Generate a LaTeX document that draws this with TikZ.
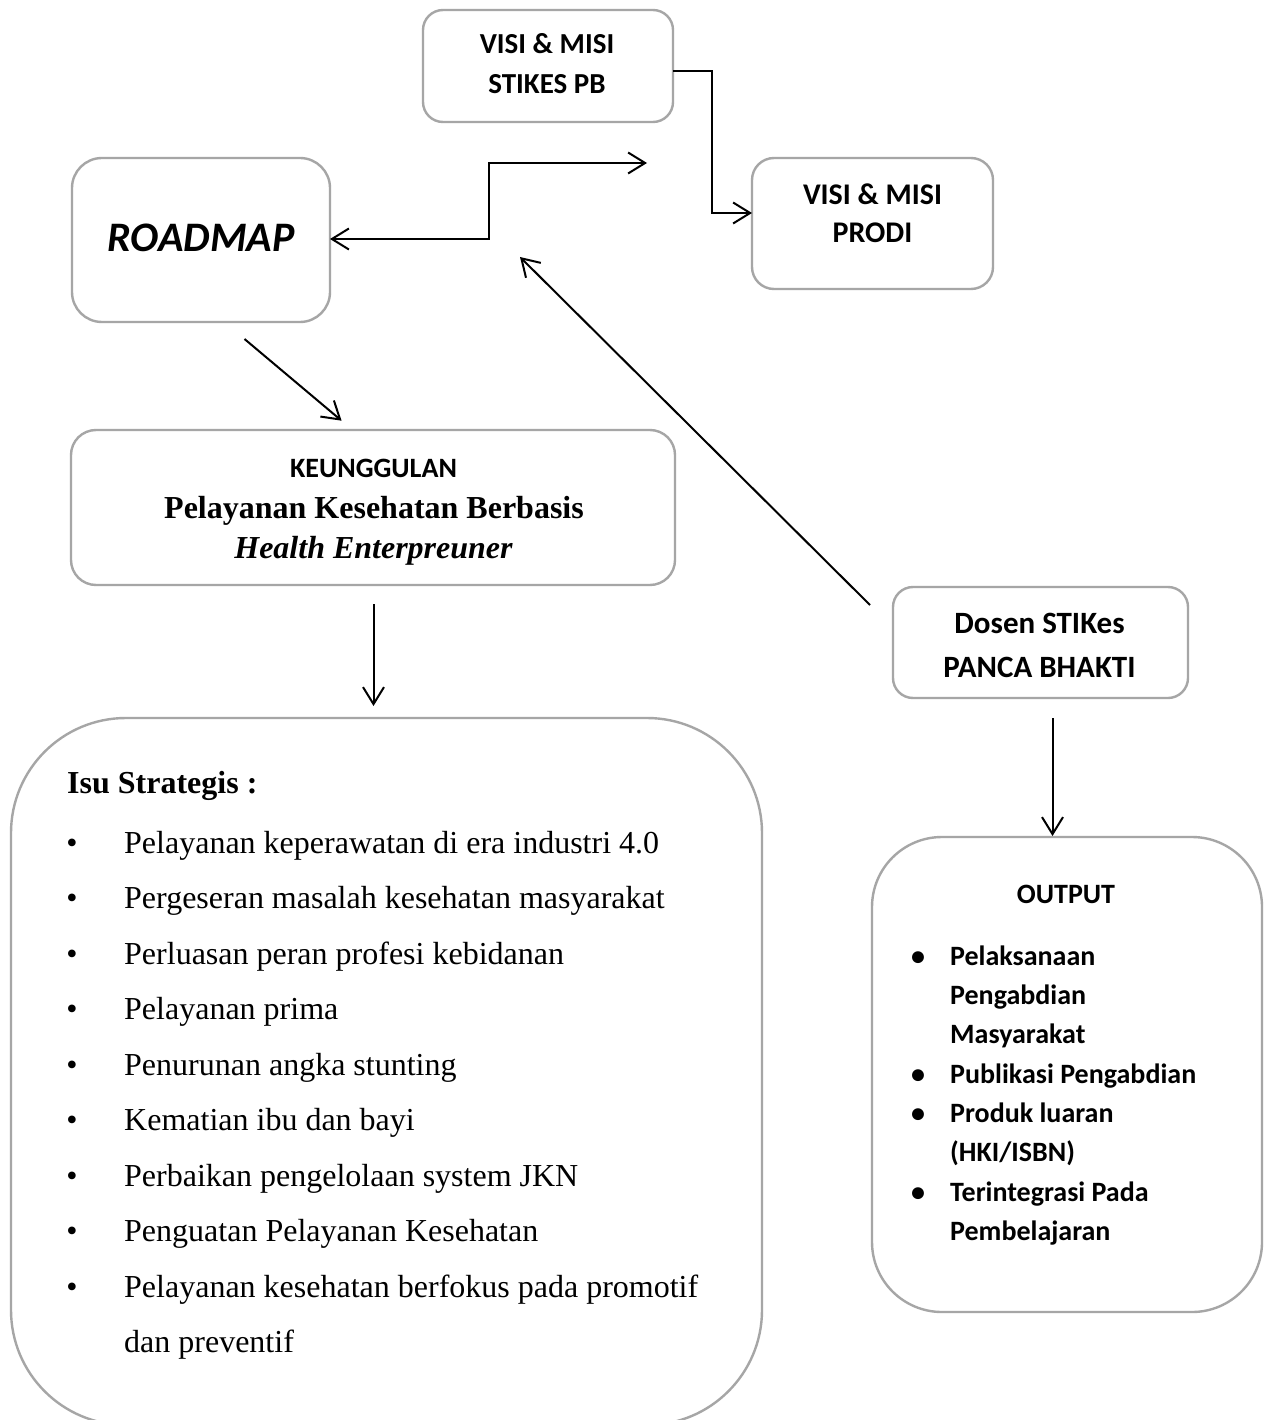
\documentclass[tikz,border=0pt]{standalone}
\usepackage{fontspec}
\setmainfont{Liberation Serif}
\newfontfamily\calfont{Carlito}
\usetikzlibrary{arrows.meta,calc}
\definecolor{bordergray}{RGB}{166,166,166}
\begin{document}
\begin{tikzpicture}[x=1pt,y=-1pt,
  box/.style={draw=bordergray, line width=2.4pt, rectangle, inner sep=0pt, outer sep=0pt, fill=white},
  cal/.style={font=\calfont\bfseries\fontsize{#1}{#1}\selectfont, inner sep=0pt, anchor=base},
  tms/.style={font=\fontsize{#1}{#1}\selectfont, inner sep=0pt, anchor=base},
  conn/.style={line width=2pt, draw=black},
  arr/.style={conn, -{Straight Barb[length=17pt,width=21pt]}},
  darr/.style={conn, {Straight Barb[length=17pt,width=21pt]}-{Straight Barb[length=17pt,width=21pt]}}]
\useasboundingbox (0,0) rectangle (1268,1420);
\clip (0,0) rectangle (1268,1420);
\fill[white] (0,0) rectangle (1268,1420);

% boxes
\node[box, rounded corners=20pt, minimum width=250pt, minimum height=112pt] (vpb) at (548,66) {};
\node[box, rounded corners=22pt, minimum width=241pt, minimum height=131pt] (prodi) at (872.5,223.5) {};
\node[box, rounded corners=30pt, minimum width=258pt, minimum height=164pt] (road) at (201,240) {};
\node[box, rounded corners=25pt, minimum width=604pt, minimum height=155pt] (keung) at (373,507.5) {};
\node[box, rounded corners=20pt, minimum width=295pt, minimum height=111pt] (dosen) at (1040.5,642.5) {};
\node[box, rounded corners=115pt, minimum width=751pt, minimum height=707pt] (isu) at (386.5,1071.5) {};
\node[box, rounded corners=70pt, minimum width=390pt, minimum height=475pt] (out) at (1067,1074.5) {};

% texts
\node[cal=29] (vpbA) at (547,54) {VISI \& MISI};
\node[cal=29] (vpbB) at (547,94) {STIKES PB};
\node[cal=30] (prodiA) at (872.5,205) {VISI \& MISI};
\node[cal=30] (prodiB) at (872.5,243) {PRODI};
\node[font=\calfont\bfseries\itshape\fontsize{42}{42}\selectfont, inner sep=0pt, anchor=base] (roadT) at (201,252) {ROADMAP};
\node[cal=28] (keungA) at (373.5,477) {KEUNGGULAN};
\node[tms=32] (keungB) at (374,518) {\bfseries Pelayanan Kesehatan Berbasis};
\node[tms=32] (keungC) at (373.5,558) {\bfseries\itshape Health Enterpreuner};
\node[cal=31] (dosenA) at (1039.5,633) {Dosen STIKes};
\node[cal=31] (dosenB) at (1039.5,677) {PANCA BHAKTI};

\node[tms=32, anchor=base west] (isuT) at (67,793) {\bfseries Isu Strategis :};
\foreach \t [count=\i] in {Pelayanan keperawatan di era industri 4.0,
  Pergeseran masalah kesehatan masyarakat,
  Perluasan peran profesi kebidanan,
  Pelayanan prima,
  Penurunan angka stunting,
  Kematian ibu dan bayi,
  Perbaikan pengelolaan system JKN,
  Penguatan Pelayanan Kesehatan,
  Pelayanan kesehatan berfokus pada promotif}{
  \node[tms=32] (isub\i) at (72,{853+55.5*(\i-1)}) {•};
  \node[tms=32, anchor=base west] (isul\i) at (124,{853+55.5*(\i-1)}) {\t};
}
\node[tms=32, anchor=base west] (isul10) at (124,1352.5) {dan preventif};

\node[cal=28] (outT) at (1066,903) {OUTPUT};
\foreach \t [count=\i] in {Pelaksanaan, Pengabdian, Masyarakat, Publikasi Pengabdian,
  Produk luaran, (HKI/ISBN), Terintegrasi Pada, Pembelajaran}{
  \node[cal=28, anchor=base west] (outl\i) at (950,{965+39.36*(\i-1)}) {\t};
}
\foreach \i in {1,4,5,7}{
  \node[cal=28] (outb\i) at (918,{965+39.36*(\i-1)}) {•};
}

% connectors
\draw[arr] (vpb.east |- 0,71) -- (712,71) |- (prodi.west |- 0,213);
\coordinate (tipA) at (647,163);
\draw[darr] (road.east |- 0,239) -- (489,239) |- (tipA);
\coordinate (tipB) at (520,257);
\draw[arr] ([xshift=-23pt,yshift=-18pt]dosen.north west) -- (tipB);
\draw[arr] ([xshift=43.5pt,yshift=-17pt]road.south) -- ([xshift=-31.4pt,yshift=9.3pt]keung.north);
\coordinate (ka) at ($(keung.south)+(0.5,19)$);
\draw[arr] (ka) -- ($(ka |- isu.north)+(0,-12)$);
\coordinate (da) at ($(dosen.south)+(12,20)$);
\draw[arr] (da) -- ($(da |- out.north)+(0,-1)$);
\end{tikzpicture}
\end{document}
